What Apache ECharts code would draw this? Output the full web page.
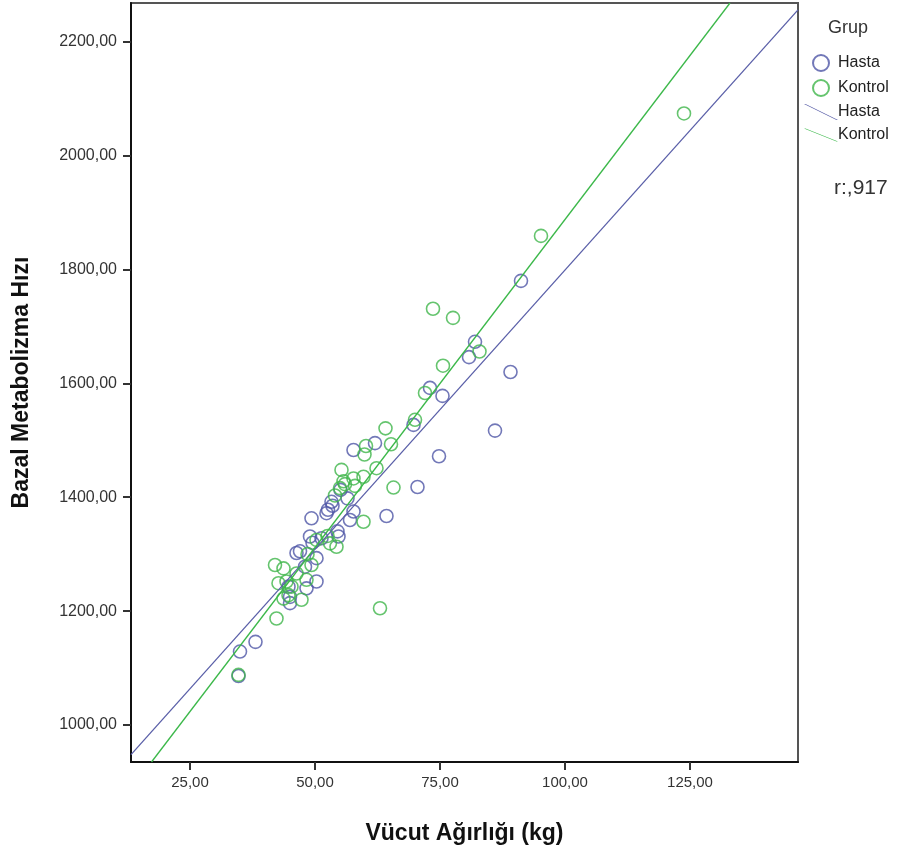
<!DOCTYPE html>
<html>
<head>
<meta charset="utf-8">
<script src="https://cdn.jsdelivr.net/npm/echarts@6/dist/echarts.min.js"></script>
<style>
  html, body { margin: 0; padding: 0; background: #fff; }
  #chart { width: 903px; height: 853px; }
</style>
</head>
<body>
<div id="chart"></div>
<script>
// Vücut ağırlığı (kg), bazal metabolizma hızı
const hastaPoints = [
  [91.2, 1780], [82, 1673], [80.8, 1646], [89.1, 1620], [73, 1592], [75.5, 1578],
  [69.7, 1527], [86, 1517], [62, 1495], [57.7, 1483], [74.8, 1472], [70.5, 1418],
  [64.3, 1367], [49.3, 1363], [52.3, 1372], [52.6, 1378], [53.3, 1392], [55.1, 1413],
  [57.7, 1375], [56.5, 1398], [53.5, 1385], [57, 1360], [47, 1305], [46.3, 1302],
  [49, 1331], [51.3, 1328], [54.7, 1331], [54.5, 1340], [49.5, 1320], [50.3, 1293],
  [48, 1278], [50.3, 1252], [48.3, 1240], [44.7, 1243], [45, 1225], [45, 1214],
  [38.1, 1146], [35, 1129], [34.7, 1086]
]
const kontrolPoints = [
  [123.8, 2074], [95.2, 1859], [73.6, 1731], [77.6, 1715], [82.9, 1656], [75.6, 1631],
  [72, 1583], [70, 1536], [64.1, 1521], [60.2, 1490], [59.9, 1475], [65.2, 1493],
  [55.3, 1448], [62.3, 1451], [59.7, 1436], [57.7, 1433], [55.7, 1428], [55, 1416],
  [56, 1423], [58, 1420], [54, 1403], [65.7, 1417], [59.7, 1357], [63, 1205],
  [50.3, 1325], [53, 1319], [54.3, 1313], [52.5, 1332], [48.5, 1300], [49.3, 1281],
  [46.3, 1266], [48.3, 1255], [42, 1281], [43.7, 1275], [44.3, 1252], [45.3, 1243],
  [42.7, 1249], [44.7, 1228], [43.7, 1222], [47.3, 1220], [42.3, 1187], [34.7, 1088]
]
// fit lines (end points)
const hastaFit = [[13.2, 948], [146.6, 2256]]
const kontrolFit = [[17.3, 935], [133, 2268]]

const xTicks = [25, 50, 75, 100, 125]
const yTicks = [1000, 1200, 1400, 1600, 1800, 2000, 2200]

const blue = '#4f56a6'
const green = '#3fb54a'
const fmt = v => v.toFixed(2).replace('.', ',')

const chart = echarts.init(document.getElementById('chart'))
chart.setOption({
  animation: false,
  textStyle: { fontFamily: 'Liberation Sans, Arial, sans-serif' },
  title: [
    { text: 'Grup', left: 823, top: 14, textStyle: { fontSize: 18, fontWeight: 'normal', color: '#333' } },
    { text: 'r:,917', left: 829, top: 173, textStyle: { fontSize: 21, fontWeight: 'normal', color: '#333' } }
  ],
  legend: {
    orient: 'vertical',
    left: 799,
    top: 49,
    itemWidth: 34,
    itemHeight: 16,
    itemGap: 7,
    textStyle: { fontSize: 16, color: '#222', padding: [0, 0, 0, -5] },
    data: [
      { name: 'Hasta', icon: 'circle' },
      { name: 'Kontrol', icon: 'circle' },
      { name: 'Hasta ', icon: 'path://M0,0L1.5,0L34,16L32.5,16Z' },
      { name: 'Kontrol ', icon: 'path://M0,0L1.5,0L34,13L32.5,13Z' }
    ]
  },
  grid: {
    left: 131, right: 105, top: 3, bottom: 91,
    show: true, borderColor: '#555', borderWidth: 2, backgroundColor: '#fff'
  },
  xAxis: {
    type: 'value',
    min: 13.2,
    max: 146.6,
    name: 'Vücut Ağırlığı (kg)',
    nameLocation: 'middle',
    nameGap: 60,
    nameTextStyle: { fontSize: 23, fontWeight: 'bold', color: '#111' },
    axisLine: { show: true, lineStyle: { color: '#111', width: 2 } },
    axisTick: { show: true, length: 8, customValues: xTicks, lineStyle: { color: '#333', width: 2 } },
    axisLabel: { customValues: xTicks, formatter: fmt, fontSize: 15, color: '#333', margin: 13 },
    splitLine: { show: false }
  },
  yAxis: {
    type: 'value',
    min: 935,
    max: 2268,
    name: 'Bazal Metabolizma Hızı',
    nameLocation: 'middle',
    nameGap: 98,
    nameTextStyle: { fontSize: 23, fontWeight: 'bold', color: '#111' },
    axisLine: { show: true, lineStyle: { color: '#111', width: 2 } },
    axisTick: { show: true, length: 8, customValues: yTicks, lineStyle: { color: '#333', width: 2 } },
    axisLabel: { customValues: yTicks, formatter: fmt, fontSize: 16, color: '#333', margin: 14 },
    splitLine: { show: false }
  },
  series: [
    {
      name: 'Hasta',
      type: 'scatter',
      data: hastaPoints,
      symbol: 'circle',
      symbolSize: 13,
      itemStyle: { color: 'rgba(255,255,255,0)', borderColor: blue, borderWidth: 1.6 }
    },
    {
      name: 'Kontrol',
      type: 'scatter',
      data: kontrolPoints,
      symbol: 'circle',
      symbolSize: 13,
      itemStyle: { color: 'rgba(255,255,255,0)', borderColor: green, borderWidth: 1.6 }
    },
    {
      name: 'Hasta ',
      type: 'line',
      data: hastaFit,
      showSymbol: false,
      color: '#5a5fa8',
      lineStyle: { color: '#5a5fa8', width: 1.3 }
    },
    {
      name: 'Kontrol ',
      type: 'line',
      data: kontrolFit,
      showSymbol: false,
      color: '#3cb84a',
      lineStyle: { color: '#3cb84a', width: 1.3 }
    }
  ]
})
</script>
</body>
</html>
